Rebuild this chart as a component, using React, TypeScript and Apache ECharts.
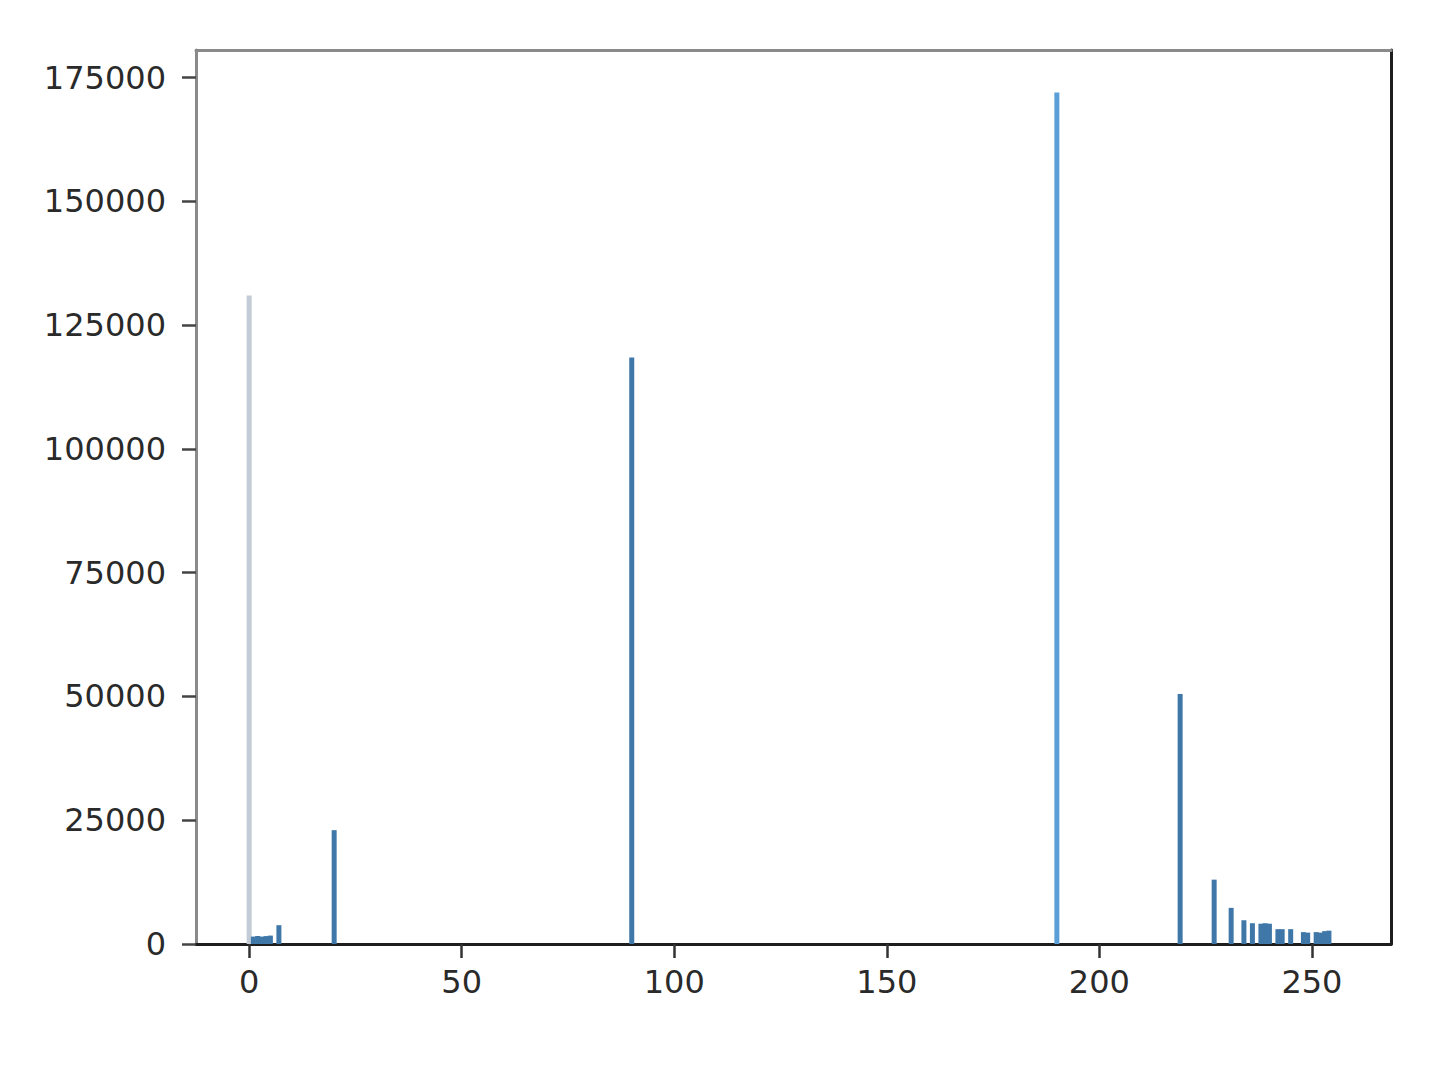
import React, { useEffect, useRef } from "react";
import * as echarts from "echarts";

const binX = [0, 1, 2, 3, 4, 5, 7, 20, 90, 190, 219, 227, 231, 234, 236, 238, 239, 240, 242, 243, 245, 248, 249, 251, 252, 253, 254];
const counts = [131000, 1500, 1600, 1500, 1600, 1700, 3800, 23000, 118500, 172000, 50500, 13000, 7300, 4800, 4200, 4100, 4200, 4100, 3000, 3000, 3000, 2400, 2300, 2400, 2300, 2600, 2700];
const xTicks = [0, 50, 100, 150, 200, 250];
const yTicks = [0, 25000, 50000, 75000, 100000, 125000, 150000, 175000];

const barColor = "#3f78a8";
const lightColor = "#5b9fd8";
const faintColor = "#c3ccd6";

export default function App() {
  const ref = useRef<HTMLDivElement>(null);
  useEffect(() => {
    if (!ref.current) return;
    const chart = echarts.init(ref.current, null, { renderer: "svg" });
    const font = { fontFamily: "DejaVu Sans", fontSize: 32, color: "#2a2a2a" };
    chart.setOption({
      animation: false,
      backgroundColor: "#ffffff",
      grid: { left: 196, top: 50, width: 1195, height: 894, show: false },
      xAxis: [
        {
          type: "value",
          min: -12.5,
          max: 268.6,
          splitLine: { show: false },
          axisLine: { show: true, onZero: false, lineStyle: { color: "#1e1e1e", width: 3 } },
          axisTick: { show: true, length: 14, customValues: xTicks, lineStyle: { color: "#333", width: 2.5 } },
          axisLabel: { ...font, margin: 22, customValues: xTicks, formatter: (v: number) => String(v) },
        },
        {
          type: "value",
          position: "top",
          min: -12.5,
          max: 268.6,
          splitLine: { show: false },
          axisLine: { show: true, onZero: false, lineStyle: { color: "#8a8a8a", width: 3 } },
          axisTick: { show: false },
          axisLabel: { show: false },
        },
      ],
      yAxis: [
        {
          type: "value",
          min: 0,
          max: 180600,
          splitLine: { show: false },
          axisLine: { show: true, onZero: false, lineStyle: { color: "#8a8a8a", width: 3 } },
          axisTick: { show: true, length: 14, customValues: yTicks, lineStyle: { color: "#444", width: 2.5 } },
          axisLabel: { ...font, margin: 30, customValues: yTicks, formatter: (v: number) => String(v) },
        },
        {
          type: "value",
          position: "right",
          min: 0,
          max: 180600,
          splitLine: { show: false },
          axisLine: { show: true, onZero: false, lineStyle: { color: "#1e1e1e", width: 3 } },
          axisTick: { show: false },
          axisLabel: { show: false },
        },
      ],
      series: [
        {
          type: "bar",
          xAxisIndex: 0,
          yAxisIndex: 0,
          barWidth: 5,
          barGap: "-100%",
          data: binX.map((x, i) => ({
            value: [x, counts[i]],
            itemStyle: { color: x === 0 ? faintColor : x === 190 ? lightColor : barColor },
          })),
        },
      ],
    });
    return () => chart.dispose();
  }, []);
  return (
    <div
      ref={ref}
      style={{ position: "fixed", left: 0, top: 0, width: 1441, height: 1091, background: "#fff" }}
    />
  );
}
